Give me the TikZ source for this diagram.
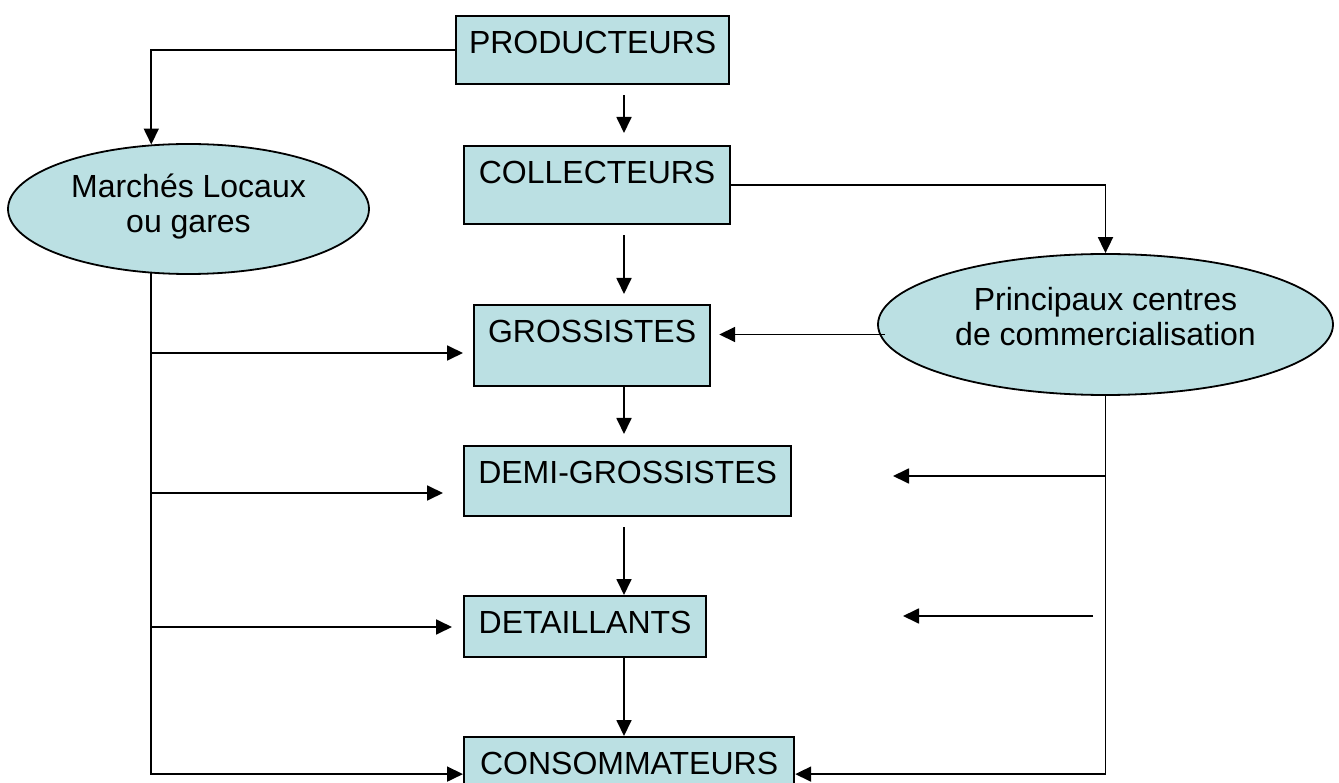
\documentclass[tikz,border=0pt]{standalone}
\usepackage{fontspec}
\setmainfont{Liberation Sans}
\usepackage{xcolor}
\usetikzlibrary{arrows.meta, shapes.geometric, positioning}
\definecolor{boxfill}{RGB}{187,224,227}

\begin{document}
\begin{tikzpicture}[x=1pt, y=-1pt,
    every node/.style={font=\fontsize{32}{35}\selectfont},
    poste/.style={draw, line width=2.2pt, fill=boxfill, inner sep=0pt, anchor=north west, text height=37pt},
    lieu/.style={ellipse, draw, line width=1.8pt, fill=boxfill, inner sep=0pt, align=center},
    fleche/.style={line width=1.8pt, -{Triangle[length=16pt,width=15pt]}}]

    \useasboundingbox (0,0) rectangle (1339,783);
    \clip (0,0) rectangle (1339,783);

    % Acteurs
    \node[poste, minimum width=273pt, text depth=31pt] (prod) at (455,15) {PRODUCTEURS};
    \node[poste, minimum width=266pt, text depth=41pt] (coll) at (463,145) {COLLECTEURS};
    \node[poste, minimum width=236pt, text depth=44pt] (gross) at (473,304) {GROSSISTES};
    \node[poste, minimum width=327pt, text depth=33pt] (demi) at (463,445) {DEMI-GROSSISTES};
    \node[poste, minimum width=242pt, text depth=24pt] (det) at (463,595) {DETAILLANTS};
    \node[poste, minimum width=330pt, text depth=37pt] (cons) at (463,736) {CONSOMMATEURS};

    % Lieux de vente
    \node[lieu, minimum width=361pt, minimum height=130pt, text depth=12pt] (marche) at (188.5,209) {Marchés Locaux\\ou gares};
    \node[lieu, minimum width=455pt, minimum height=141pt, text depth=17pt] (princ) at (1105.5,324.5) {Principaux centres\\de commercialisation};

    % Points libres
    \coordinate (axe) at (624,0);
    \coordinate (g1) at (152,353);
    \coordinate (g2) at (152,493);
    \coordinate (g3) at (152,627);
    \coordinate (d1) at (1105,476);
    \coordinate (d1b) at (893,476);
    \coordinate (d2) at (1093,616);
    \coordinate (d2b) at (903,616);

    % Chaine centrale
    \draw[fleche] ([yshift=-10pt]prod.south -| axe) -- ([yshift=12pt]coll.north -| axe);
    \draw[fleche] ([yshift=-10pt]coll.south -| axe) -- ([yshift=10pt]gross.north -| axe);
    \draw[fleche] (gross.south -| axe) -- ([yshift=11pt]demi.north -| axe);
    \draw[fleche] ([yshift=-10pt]demi.south -| axe) -- (det.north -| axe);
    \draw[fleche] (det.south -| axe) -- (cons.north -| axe);

    % Branche gauche
    \draw[fleche] (prod.west) -| (marche.120);
    \draw[fleche] (marche.240) |- (cons.west);
    \draw[fleche] (g1) -- ([xshift=-10pt]gross.west |- g1);
    \draw[fleche] (g2) -- ([xshift=-20pt]demi.west |- g2);
    \draw[fleche] (g3) -- ([xshift=-11pt]det.west |- g3);

    % Branche droite
    \draw[fleche] (coll.east) -| (princ.north);
    \draw[fleche] ([shift={(8pt,-10pt)}]princ.west) -- ([shift={(8pt,-10pt)}]princ.west -| gross.east);
    \draw[fleche] (princ.south) |- (cons.east);
    \draw[fleche] (d1) -- (d1b);
    \draw[fleche] (d2) -- (d2b);
\end{tikzpicture}
\end{document}
